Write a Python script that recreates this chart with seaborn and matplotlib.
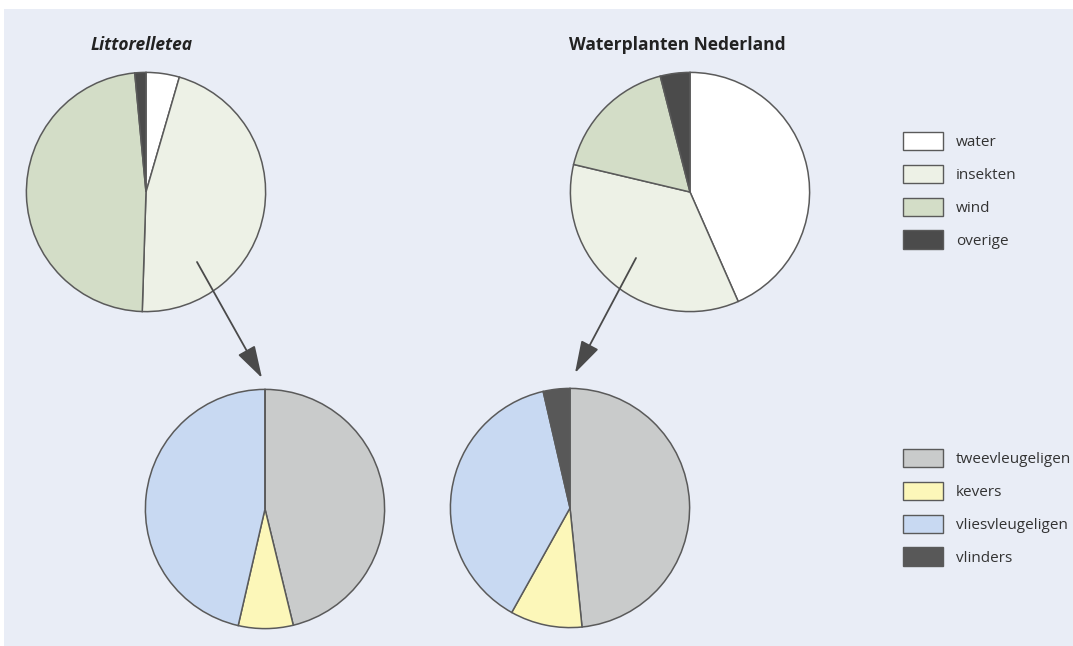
import matplotlib
matplotlib.use("Agg")
import matplotlib.pyplot as plt
from matplotlib.patches import Patch, Rectangle
import seaborn as sns

sns.set_theme(style="white")
plt.rcParams['font.family'] = ['Open Sans', 'DejaVu Sans']

# -------------------------------
# data (percentages)
# -------------------------------
bestuiving_labels = ['water', 'insekten', 'wind', 'overige']
littorelletea_bestuiving = [4.5, 46.0, 48.0, 1.5]
nederland_bestuiving = [43.4, 35.3, 17.3, 4.0]

insekt_labels = ['tweevleugeligen', 'kevers', 'vliesvleugeligen', 'vlinders']
littorelletea_insekten = [46.2, 7.4, 46.4, 0.0]
nederland_insekten = [48.4, 9.7, 38.3, 3.6]

titles = ['Littorelletea', 'Waterplanten Nederland']

bestuiving_colors = ['#ffffff', '#edf1e6', '#d3ddc7', '#4b4b4b']
insekt_colors = ['#c9cbcb', '#fcf7b9', '#c8d9f2', '#585858']
edge = '#5a5a5a'
bg = '#e9edf6'

W, H = 1073, 646
fig = plt.figure(figsize=(W / 100, H / 100), dpi=100, facecolor='white')

# overlay in pixel coordinates (y downwards) for background
over = fig.add_axes([0, 0, 1, 1], zorder=0)
over.set_xlim(0, W)
over.set_ylim(H, 0)
over.axis('off')
over.add_patch(Rectangle((4, 9), W, H, facecolor=bg, edgecolor='none'))


def pie_axes(cx, cy, r):
    return fig.add_axes([(cx - r) / W, 1 - (cy + r) / H, 2 * r / W, 2 * r / H], zorder=1)


def draw_pie(ax, values, colors):
    ax.pie(values, colors=colors, startangle=90, counterclock=False,
           wedgeprops={'edgecolor': edge, 'linewidth': 1.1})
    ax.set_xlim(-1.02, 1.02)
    ax.set_ylim(-1.02, 1.02)
    ax.set_aspect('equal')
    ax.axis('off')


draw_pie(pie_axes(146, 192, 122), littorelletea_bestuiving, bestuiving_colors)
draw_pie(pie_axes(690, 192, 122), nederland_bestuiving, bestuiving_colors)
draw_pie(pie_axes(265, 509, 122), littorelletea_insekten, insekt_colors)
draw_pie(pie_axes(570, 508, 122), nederland_insekten, insekt_colors)

# titles
fig.text(142 / W, 1 - 45 / H, titles[0], ha='center', va='center',
         fontsize=12.5, fontweight='bold', fontstyle='italic', color='#222222')
fig.text(677 / W, 1 - 45 / H, titles[1], ha='center', va='center',
         fontsize=12.5, fontweight='bold', color='#222222')

# arrows on top of the pies
top = fig.add_axes([0, 0, 1, 1], zorder=5)
top.set_xlim(0, W)
top.set_ylim(H, 0)
top.axis('off')
top.patch.set_alpha(0)
arrow = dict(arrowstyle='-|>,head_length=1.0,head_width=0.3', color='#4a4a4a',
             lw=1.3, mutation_scale=20, shrinkA=0, shrinkB=0)
top.annotate('', xy=(262, 378), xytext=(197, 262), arrowprops=arrow)
top.annotate('', xy=(575, 373), xytext=(636, 258), arrowprops=arrow)

# legends
leg_kw = dict(loc='upper left', bbox_transform=top.transData, frameon=False,
              fontsize=11, handlelength=2.6, handleheight=1.45, labelspacing=0.96,
              handletextpad=0.85, borderpad=0, borderaxespad=0, labelcolor='#333333')
h1 = [Patch(facecolor=c, edgecolor=edge, linewidth=1) for c in bestuiving_colors]
leg1 = top.legend(h1, bestuiving_labels, bbox_to_anchor=(903, 132), **leg_kw)
top.add_artist(leg1)
h2 = [Patch(facecolor=c, edgecolor=edge, linewidth=1) for c in insekt_colors]
top.legend(h2, insekt_labels, bbox_to_anchor=(903, 449), **leg_kw)

fig.savefig('out.png', dpi=100, facecolor=fig.get_facecolor())
